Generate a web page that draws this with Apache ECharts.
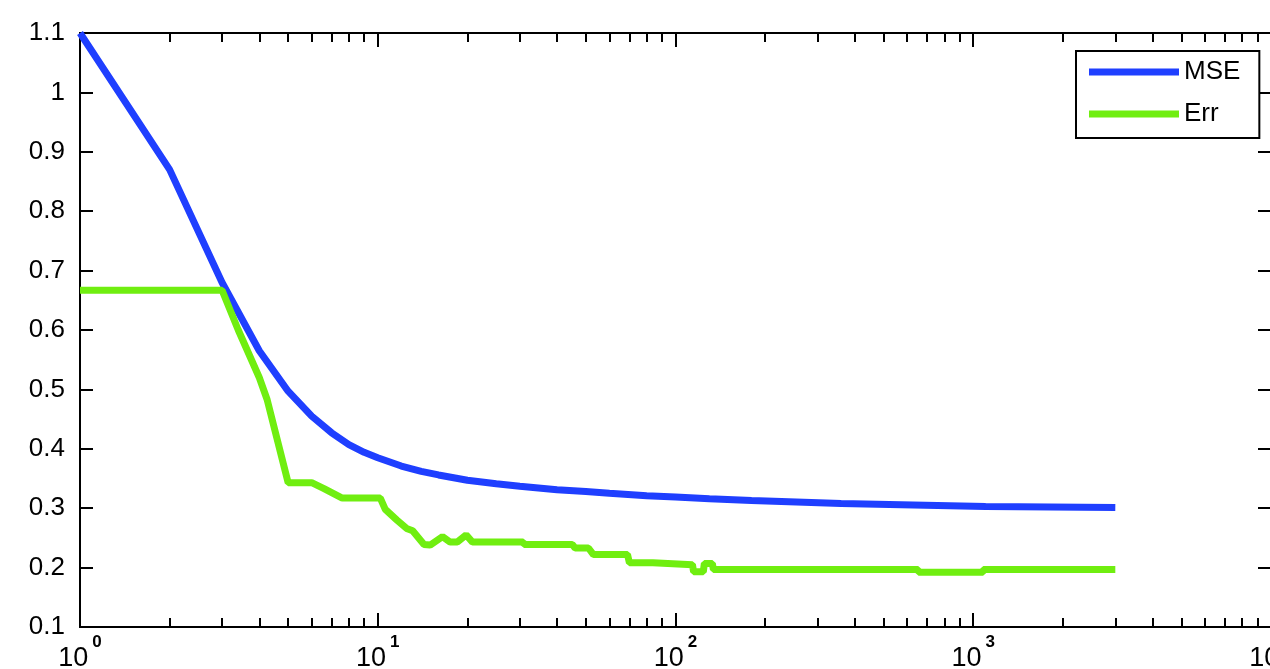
<!DOCTYPE html>
<html>
<head>
<meta charset="utf-8">
<script src="https://cdn.jsdelivr.net/npm/echarts@6/dist/echarts.min.js"></script>
<style>
  html, body { margin: 0; padding: 0; background: #fff; }
  #chart { width: 1270px; height: 669px; }
</style>
</head>
<body>
<div id="chart"></div>
<script>
// MSE curve
const mseX = [1, 2, 3, 4, 5, 6, 7, 8, 9, 10, 12, 14, 16, 20, 25, 30, 40, 50, 60, 80, 100, 130, 180, 360, 1100, 3000];
const mseY = [1.1, 0.87, 0.68, 0.565, 0.497, 0.455, 0.427, 0.407, 0.394, 0.385, 0.371, 0.362, 0.356, 0.347, 0.341, 0.337, 0.331, 0.328, 0.325, 0.321, 0.319, 0.316, 0.313, 0.308, 0.303, 0.301];

// Err curve (step-ish)
const errX = [1, 3, 3.4, 4, 4.25, 5, 6, 6.6, 7.6, 10.2, 10.6, 11.6, 12.5, 13.1, 14.3, 15, 16.5, 17.5, 18.5, 19.8, 20.8, 30.8, 31, 45, 46, 51, 53, 69, 70, 84, 85, 114, 115, 124, 125, 133, 134, 653, 655, 1079, 1081, 3000];
const errY = [0.667, 0.667, 0.6, 0.52, 0.483, 0.343, 0.343, 0.333, 0.317, 0.317, 0.298, 0.28, 0.266, 0.262, 0.239, 0.238, 0.252, 0.243, 0.243, 0.255, 0.243, 0.243, 0.239, 0.239, 0.233, 0.233, 0.222, 0.222, 0.208, 0.208, 0.205, 0.205, 0.193, 0.193, 0.207, 0.207, 0.197, 0.197, 0.192, 0.192, 0.197, 0.197];

const xMajor = [1, 10, 100, 1000, 10000];
const yMin = 0.1, yMax = 1.1, yStep = 0.1;

const xMinor = [];
xMajor.slice(0, -1).forEach(function (d) {
  for (let m = 2; m <= 9; m++) xMinor.push(m * d);
});

const FONT = "'Liberation Sans', Arial, sans-serif";
const BLACK = '#000';

function xAxisDef(pos, ticks, len, labels) {
  return {
    type: 'log', logBase: 10, min: 1, max: 10000, position: pos,
    axisLine: { show: true, lineStyle: { color: BLACK, width: 2 } },
    axisTick: { show: true, inside: true, length: len, customValues: ticks, lineStyle: { color: BLACK, width: 2 } },
    axisLabel: labels ? {
      show: true, margin: 18, customValues: xMajor,
      formatter: function (v) { return '{b|10}{s|' + Math.round(Math.log10(v)) + '}'; },
      rich: {
        b: { fontSize: 27, lineHeight: 27, fontFamily: FONT, color: BLACK, verticalAlign: 'bottom' },
        s: { fontSize: 17, lineHeight: 17, fontFamily: FONT, fontWeight: 'bold', color: BLACK, padding: [0, 0, 21, 4], verticalAlign: 'bottom' }
      }
    } : { show: false },
    splitLine: { show: false }
  };
}

function yAxisDef(pos, labels) {
  return {
    type: 'value', min: yMin, max: yMax, interval: yStep, position: pos,
    axisLine: { show: true, lineStyle: { color: BLACK, width: 2 } },
    axisTick: { show: true, inside: true, length: 13, lineStyle: { color: BLACK, width: 2 } },
    axisLabel: labels ? {
      show: true, margin: 15, fontSize: 26, fontFamily: FONT, color: BLACK,
      formatter: function (v) { return String(Math.round(v * 10) / 10); }
    } : { show: false },
    splitLine: { show: false }
  };
}

const chart = echarts.init(document.getElementById('chart'));
const option = {
  animation: false,
  backgroundColor: '#fff',
  grid: { left: 80, top: 33, width: 1191, height: 594, containLabel: false, outerBoundsMode: 'none' },
  xAxis: [
    xAxisDef('bottom', xMajor, 14, true),
    xAxisDef('bottom', xMinor, 9, false),
    xAxisDef('top', xMajor, 14, false),
    xAxisDef('top', xMinor, 9, false)
  ],
  yAxis: [yAxisDef('left', true), yAxisDef('right', false)],
  legend: {
    left: 1076, top: 51, orient: 'vertical',
    data: ['MSE', 'Err'], icon: 'rect', itemWidth: 90, itemHeight: 7, itemGap: 12,
    padding: [6, 19, 9, 13],
    borderColor: BLACK, borderWidth: 2, backgroundColor: '#fff',
    textStyle: { fontSize: 26, lineHeight: 30, fontFamily: FONT, color: BLACK }
  },
  series: [
    {
      name: 'MSE', type: 'line', xAxisIndex: 0, yAxisIndex: 0,
      symbol: 'none', color: '#1f3fff',
      lineStyle: { width: 7, color: '#1f3fff' },
      data: mseX.map(function (x, i) { return [x, mseY[i]]; })
    },
    {
      name: 'Err', type: 'line', xAxisIndex: 0, yAxisIndex: 0,
      symbol: 'none', color: '#70ee10',
      lineStyle: { width: 7, color: '#70ee10' },
      data: errX.map(function (x, i) { return [x, errY[i]]; })
    }
  ]
};
chart.setOption(option);
</script>
</body>
</html>
